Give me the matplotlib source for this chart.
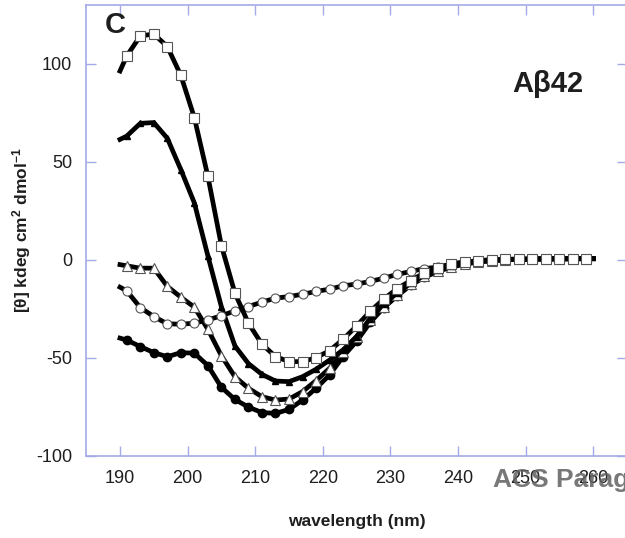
import matplotlib
matplotlib.use("Agg")
import matplotlib.pyplot as plt

plt.rcParams['font.family'] = ['Liberation Sans', 'DejaVu Sans']
plt.rcParams['axes.unicode_minus'] = False
plt.rcParams['mathtext.fontset'] = 'custom'
plt.rcParams['mathtext.rm'] = 'Liberation Sans:bold'
plt.rcParams['mathtext.it'] = 'Liberation Sans:bold'
plt.rcParams['mathtext.bf'] = 'Liberation Sans:bold'
plt.rcParams['mathtext.default'] = 'rm'

# wavelength points: line start (190), markers at odd nm, line end (260)
wavelength = [190] + list(range(191, 260, 2)) + [260]

open_squares = [96.3, 104, 114.2, 115.2, 108.8, 94.1, 72.5, 42.6, 7.2, -17,
                -32.4, -43.1, -49.4, -52, -52, -50, -46.4, -40.6, -33.8, -26.4,
                -20.1, -14.8, -10.6, -6.8, -4.2, -2.2, -1.2, -0.5, 0, 0.2,
                0.3, 0.4, 0.5, 0.5, 0.6, 0.6, 0.6]
filled_triangles = [61.4, 63.1, 69.6, 70, 62, 46, 29, 2, -24, -44,
                    -53, -58.5, -61.9, -62.2, -59.7, -55.9, -51.2, -46, -39.2, -30,
                    -22.5, -17, -12, -8, -5, -3, -1.5, -0.8, -0.2, 0,
                    0.2, 0.3, 0.4, 0.4, 0.5, 0.5, 0.5]
open_triangles = [-2.5, -3.1, -4.3, -4.3, -13.6, -19.1, -24.2, -35.5, -49, -59.7,
                  -65.6, -69.9, -71.6, -71.1, -67.3, -61.7, -55.4, -47.2, -39.2, -31,
                  -24, -18, -12.5, -8.5, -5.5, -3.5, -2, -1, -0.5, 0,
                  0.2, 0.3, 0.4, 0.4, 0.5, 0.5, 0.5]
open_circles = [-14, -15.9, -24.4, -29, -32.7, -32.9, -32.4, -30.7, -28.6, -26.1,
                -23.9, -21.6, -19.6, -18.8, -17.6, -16.2, -15, -13.3, -12.4, -11.1,
                -9.4, -7.5, -6, -4.5, -3.8, -2.2, -1.2, -0.5, 0, 0.2,
                0.3, 0.4, 0.5, 0.5, 0.6, 0.6, 0.6]
filled_circles = [-40, -41, -44.3, -47.4, -49.5, -47.4, -47.7, -54, -65.1, -71.3,
                  -75.2, -78, -78.4, -76.4, -71.6, -65.6, -58.8, -49.4, -41.6, -32,
                  -24.5, -18.5, -13, -9, -6, -3.8, -2.2, -1.2, -0.5, 0,
                  0.2, 0.3, 0.4, 0.4, 0.5, 0.5, 0.5]

xticks = [190, 200, 210, 220, 230, 240, 250, 260]
yticks = [-100, -50, 0, 50, 100]

spine_color = '#a3aae6'
text_color = '#1e1e1e'

fig = plt.figure(figsize=(6.25, 5.38), dpi=100)
ax = fig.add_axes([0.1379, 0.153, 0.8653, 0.8377])

n = len(wavelength)
every = list(range(1, n - 1))

ax.plot(wavelength, filled_circles, color='black', lw=3.4, marker='o', ms=6,
        mfc='black', mec='black', markevery=every, zorder=2)
ax.plot(wavelength, open_triangles, color='black', lw=3.4, marker='^', ms=7.5,
        mfc='white', mec='#555555', mew=0.8, markevery=every, zorder=3)
ax.plot(wavelength, filled_triangles, color='black', lw=3.4, marker='^', ms=5,
        mfc='black', mec='black', markevery=every, zorder=4)
ax.plot(wavelength, open_circles, color='black', lw=3.4, marker='o', ms=6.5,
        mfc='white', mec='#555555', mew=0.8, markevery=every, zorder=5)
ax.plot(wavelength, open_squares, color='black', lw=3.4, marker='s', ms=7,
        mfc='white', mec='#555555', mew=0.8, markevery=every, zorder=6)

ax.set_xlim(185, 265)
ax.set_ylim(-100, 130)
ax.set_xticks(xticks)
ax.set_yticks(yticks)
for s in ax.spines.values():
    s.set_color(spine_color)
    s.set_linewidth(1.2)
ax.tick_params(direction='in', length=7, width=1, color=spine_color,
               labelsize=13, labelcolor=text_color, pad=10,
               top=True, right=True)

ax.set_xlabel('wavelength (nm)', fontsize=12.5, fontweight='bold',
              color=text_color, labelpad=20)
ax.set_ylabel(r'[θ] kdeg cm$^2$ dmol$^{-1}$', fontsize=12.5, fontweight='bold',
              color=text_color, labelpad=2)

ax.text(0.035, 0.955, 'C', transform=ax.transAxes, fontsize=21, fontweight='bold',
        color=text_color, ha='left', va='center')
fig.text(548 / 625, 1 - 84 / 538, 'Aβ42', fontsize=21, fontweight='bold',
         color=text_color, ha='center', va='center')
fig.text(493 / 625, 1 - 480 / 538, 'ACS Paragon Plus Environment', fontsize=19,
         fontweight='bold', color='#606060', alpha=0.85, ha='left', va='center')

fig.savefig('out.png', dpi=100)
